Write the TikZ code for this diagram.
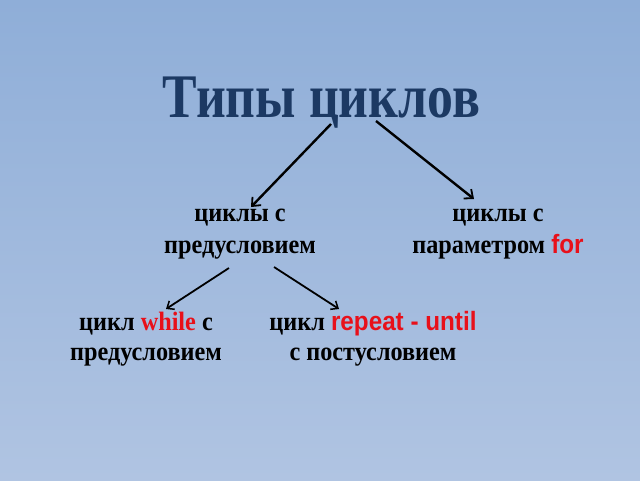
\documentclass[tikz,border=0pt]{standalone}
\usepackage{fontspec}
\setmainfont{Liberation Serif}
\setsansfont{Liberation Sans}
\usetikzlibrary{arrows.meta}
\definecolor{bgtop}{HTML}{8FAED8}
\definecolor{bgbot}{HTML}{B0C4E2}
\definecolor{titleblue}{HTML}{1C3963}
\definecolor{kwred}{HTML}{E8101A}
\tikzset{
  titletext/.style={font=\fontsize{62}{70}\selectfont\bfseries, text=titleblue, inner sep=0pt, xscale=0.835},
  bodytext/.style={font=\fontsize{26.5}{32}\selectfont\bfseries, align=center, inner sep=0pt, xscale=0.915},
  bodytextb/.style={font=\fontsize{26.5}{30}\selectfont\bfseries, align=center, inner sep=0pt, xscale=0.915},
  conn/.style={draw=black, line width=2.4pt, -{Straight Barb[length=7pt,width=12pt,line width=1.8pt]}},
  connthin/.style={draw=black, line width=1.8pt, -{Straight Barb[length=6pt,width=10pt,line width=1.5pt]}}
}
\newcommand{\kw}[1]{\textcolor{kwred}{#1}}
\newcommand{\kwsf}[1]{\textcolor{kwred}{\sffamily #1}}
\begin{document}
\begin{tikzpicture}[x=1pt,y=-1pt]
\useasboundingbox (0,0) rectangle (640,480);
\shade[top color=bgtop, bottom color=bgbot] (0,0) rectangle (640,480);
\node[titletext, anchor=base] (title) at (321.5,117) {Типы циклов};
\node[bodytext] (pre) at (240,234) {циклы с\\предусловием};
\node[bodytext] (par) at (498,234) {циклы с\\параметром \kwsf{for}};
\node[bodytextb] (wh) at (146,339) {цикл \kw{while} с\\предусловием};
\node[bodytextb] (ru) at (373,339) {цикл \kwsf{repeat - until}\\с постусловием};
\coordinate (t1) at (331,124);
\coordinate (t2) at (376,121);
\coordinate (p1) at (229,268);
\coordinate (p2) at (274,267);
\coordinate (e1) at (251,207);
\coordinate (e2) at (474,199);
\coordinate (e3) at (166,309);
\coordinate (e4) at (339,309);
\draw[conn] (t1) -- (e1);
\draw[conn] (t2) -- (e2);
\draw[connthin] (p1) -- (e3);
\draw[connthin] (p2) -- (e4);
\end{tikzpicture}
\end{document}
